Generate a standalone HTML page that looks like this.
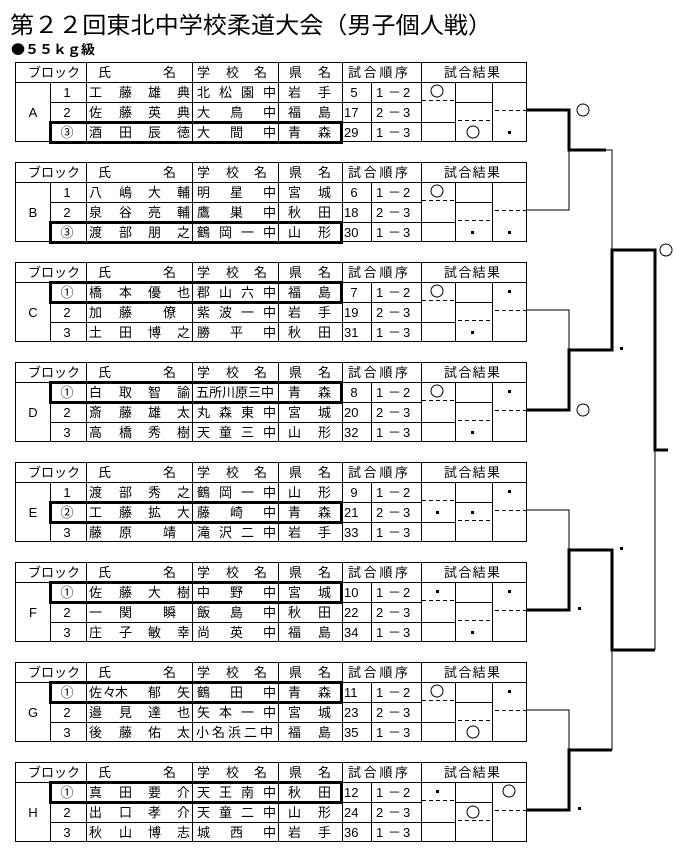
<!DOCTYPE html>
<html><head><meta charset="utf-8"><style>
html,body{margin:0;padding:0;background:#fff;}
svg{display:block;font-family:"Liberation Sans","Noto Sans CJK JP",sans-serif;}
text{font-size:13px;fill:#000;}
.c{text-anchor:middle;}
.g{fill:none;stroke:#000;stroke-width:1;}
.w{fill:none;stroke:#000;stroke-width:3;}
.d{stroke:#000;stroke-width:1;stroke-dasharray:4 3;}
.k{fill:none;stroke:#000;stroke-width:3;}
.t{fill:none;stroke:#000;stroke-width:1;}
</style></head><body>
<svg width="689" height="858" viewBox="0 0 689 858" xmlns="http://www.w3.org/2000/svg">
<text x="10" y="33" style="font-size:23px" textLength="482" lengthAdjust="spacingAndGlyphs">第２２回東北中学校柔道大会（男子個人戦）</text>
<text x="11" y="54" style="font-size:13px;font-weight:bold;font-family:'Noto Sans CJK JP',sans-serif" textLength="84" lengthAdjust="spacingAndGlyphs">●５５ｋｇ級</text>

<!-- Block A -->
<g transform="translate(0,62)">
<rect class="g" x="15.5" y="0.5" width="511" height="79"/>
<path class="g" d="M15 20.5H527M50.5 20V80M86.5 0V80M192.5 0V80M278.5 0V80M342.5 0V80M371.5 20V80M421.5 0V80M455.5 20V80M492.5 20V80M50 40.5H421M50 60.5H455M455 40.5H492"/>
<line class="d" x1="422" y1="38.5" x2="454" y2="38.5"/><line class="d" x1="458" y1="58.5" x2="490" y2="58.5"/><line class="d" x1="495" y1="48.5" x2="527" y2="48.5"/>
<text x="28" y="15" textLength="52">ブロック</text><text x="98" y="15">氏</text><text x="163" y="15">名</text><text x="197 226 254" y="15">学校名</text><text x="289 318" y="15">県名</text><text x="348" y="15" textLength="60">試合順序</text><text x="444" y="15" textLength="56">試合結果</text>
<text class="c" x="33" y="55">A</text>
<text class="c" x="67" y="35">1</text><text class="c" x="67" y="55">2</text><text class="c" x="67" y="75">③</text>
<text x="89 119 148 177" y="35">工藤雄典</text><text x="89 119 148 177" y="55">佐藤英典</text><text x="89 119 148 177" y="75">酒田辰徳</text>
<text x="197 219 241 263" y="35">北松園中</text><text x="197 230 263" y="55">大鳥中</text><text x="197 230 263" y="75">大間中</text>
<text x="288 318" y="35">岩手</text><text x="288 318" y="55">福島</text><text x="288 318" y="75">青森</text>
<text class="c" x="354" y="35">5</text><text x="344" y="55">17</text><text x="344" y="75">29</text>
<text x="376 388 403" y="35">1－2</text><text x="376 388 403" y="55">2－3</text><text x="376 388 403" y="75">1－3</text>
<rect class="w" x="50.5" y="60.5" width="291" height="20"/>
<circle class="g" cx="437" cy="29" r="6"/><circle class="g" cx="473" cy="70" r="6"/><rect x="508" y="69" width="3" height="3"/>
</g>

<!-- Block B -->
<g transform="translate(0,162)">
<rect class="g" x="15.5" y="0.5" width="511" height="79"/>
<path class="g" d="M15 20.5H527M50.5 20V80M86.5 0V80M192.5 0V80M278.5 0V80M342.5 0V80M371.5 20V80M421.5 0V80M455.5 20V80M492.5 20V80M50 40.5H421M50 60.5H455M455 40.5H492"/>
<line class="d" x1="422" y1="38.5" x2="454" y2="38.5"/><line class="d" x1="458" y1="58.5" x2="490" y2="58.5"/><line class="d" x1="495" y1="48.5" x2="527" y2="48.5"/>
<text x="28" y="15" textLength="52">ブロック</text><text x="98" y="15">氏</text><text x="163" y="15">名</text><text x="197 226 254" y="15">学校名</text><text x="289 318" y="15">県名</text><text x="348" y="15" textLength="60">試合順序</text><text x="444" y="15" textLength="56">試合結果</text>
<text class="c" x="33" y="55">B</text>
<text class="c" x="67" y="35">1</text><text class="c" x="67" y="55">2</text><text class="c" x="67" y="75">③</text>
<text x="89 119 148 177" y="35">八嶋大輔</text><text x="89 119 148 177" y="55">泉谷亮輔</text><text x="89 119 148 177" y="75">渡部朋之</text>
<text x="197 230 263" y="35">明星中</text><text x="197 230 263" y="55">鷹巣中</text><text x="197 219 241 263" y="75">鶴岡一中</text>
<text x="288 318" y="35">宮城</text><text x="288 318" y="55">秋田</text><text x="288 318" y="75">山形</text>
<text class="c" x="354" y="35">6</text><text x="344" y="55">18</text><text x="344" y="75">30</text>
<text x="376 388 403" y="35">1－2</text><text x="376 388 403" y="55">2－3</text><text x="376 388 403" y="75">1－3</text>
<rect class="w" x="50.5" y="60.5" width="291" height="20"/>
<circle class="g" cx="437" cy="29" r="6"/><rect x="471" y="69" width="3" height="3"/><rect x="508" y="69" width="3" height="3"/>
</g>

<!-- Block C -->
<g transform="translate(0,262)">
<rect class="g" x="15.5" y="0.5" width="511" height="79"/>
<path class="g" d="M15 20.5H527M50.5 20V80M86.5 0V80M192.5 0V80M278.5 0V80M342.5 0V80M371.5 20V80M421.5 0V80M455.5 20V80M492.5 20V80M50 40.5H421M50 60.5H455M455 40.5H492"/>
<line class="d" x1="422" y1="38.5" x2="454" y2="38.5"/><line class="d" x1="458" y1="58.5" x2="490" y2="58.5"/><line class="d" x1="495" y1="48.5" x2="527" y2="48.5"/>
<text x="28" y="15" textLength="52">ブロック</text><text x="98" y="15">氏</text><text x="163" y="15">名</text><text x="197 226 254" y="15">学校名</text><text x="289 318" y="15">県名</text><text x="348" y="15" textLength="60">試合順序</text><text x="444" y="15" textLength="56">試合結果</text>
<text class="c" x="33" y="55">C</text>
<text class="c" x="67" y="35">①</text><text class="c" x="67" y="55">2</text><text class="c" x="67" y="75">3</text>
<text x="89 119 148 177" y="35">橋本優也</text><text x="89 119 163" y="55">加藤僚</text><text x="89 119 148 177" y="75">土田博之</text>
<text x="197 219 241 263" y="35">郡山六中</text><text x="197 219 241 263" y="55">紫波一中</text><text x="197 230 263" y="75">勝平中</text>
<text x="288 318" y="35">福島</text><text x="288 318" y="55">岩手</text><text x="288 318" y="75">秋田</text>
<text class="c" x="354" y="35">7</text><text x="344" y="55">19</text><text x="344" y="75">31</text>
<text x="376 388 403" y="35">1－2</text><text x="376 388 403" y="55">2－3</text><text x="376 388 403" y="75">1－3</text>
<rect class="w" x="50.5" y="20.5" width="291" height="20"/>
<circle class="g" cx="437" cy="29" r="6"/><rect x="471" y="69" width="3" height="3"/><rect x="508" y="28" width="3" height="3"/>
</g>

<!-- Block D -->
<g transform="translate(0,362)">
<rect class="g" x="15.5" y="0.5" width="511" height="79"/>
<path class="g" d="M15 20.5H527M50.5 20V80M86.5 0V80M192.5 0V80M278.5 0V80M342.5 0V80M371.5 20V80M421.5 0V80M455.5 20V80M492.5 20V80M50 40.5H421M50 60.5H455M455 40.5H492"/>
<line class="d" x1="422" y1="38.5" x2="454" y2="38.5"/><line class="d" x1="458" y1="58.5" x2="490" y2="58.5"/><line class="d" x1="495" y1="48.5" x2="527" y2="48.5"/>
<text x="28" y="15" textLength="52">ブロック</text><text x="98" y="15">氏</text><text x="163" y="15">名</text><text x="197 226 254" y="15">学校名</text><text x="289 318" y="15">県名</text><text x="348" y="15" textLength="60">試合順序</text><text x="444" y="15" textLength="56">試合結果</text>
<text class="c" x="33" y="55">D</text>
<text class="c" x="67" y="35">①</text><text class="c" x="67" y="55">2</text><text class="c" x="67" y="75">3</text>
<text x="89 119 148 177" y="35">白取智諭</text><text x="89 119 148 177" y="55">斎藤雄太</text><text x="89 119 148 177" y="75">高橋秀樹</text>
<text x="196 209 222 235 248 261" y="35">五所川原三中</text><text x="197 219 241 263" y="55">丸森東中</text><text x="197 219 241 263" y="75">天童三中</text>
<text x="288 318" y="35">青森</text><text x="288 318" y="55">宮城</text><text x="288 318" y="75">山形</text>
<text class="c" x="354" y="35">8</text><text x="344" y="55">20</text><text x="344" y="75">32</text>
<text x="376 388 403" y="35">1－2</text><text x="376 388 403" y="55">2－3</text><text x="376 388 403" y="75">1－3</text>
<rect class="w" x="50.5" y="20.5" width="291" height="20"/>
<circle class="g" cx="437" cy="29" r="6"/><rect x="471" y="69" width="3" height="3"/><rect x="508" y="28" width="3" height="3"/>
</g>

<!-- Block E -->
<g transform="translate(0,462)">
<rect class="g" x="15.5" y="0.5" width="511" height="79"/>
<path class="g" d="M15 20.5H527M50.5 20V80M86.5 0V80M192.5 0V80M278.5 0V80M342.5 0V80M371.5 20V80M421.5 0V80M455.5 20V80M492.5 20V80M50 40.5H421M50 60.5H455M455 40.5H492"/>
<line class="d" x1="422" y1="38.5" x2="454" y2="38.5"/><line class="d" x1="458" y1="58.5" x2="490" y2="58.5"/><line class="d" x1="495" y1="48.5" x2="527" y2="48.5"/>
<text x="28" y="15" textLength="52">ブロック</text><text x="98" y="15">氏</text><text x="163" y="15">名</text><text x="197 226 254" y="15">学校名</text><text x="289 318" y="15">県名</text><text x="348" y="15" textLength="60">試合順序</text><text x="444" y="15" textLength="56">試合結果</text>
<text class="c" x="33" y="55">E</text>
<text class="c" x="67" y="35">1</text><text class="c" x="67" y="55">②</text><text class="c" x="67" y="75">3</text>
<text x="89 119 148 177" y="35">渡部秀之</text><text x="89 119 148 177" y="55">工藤拡大</text><text x="89 119 163" y="75">藤原靖</text>
<text x="197 219 241 263" y="35">鶴岡一中</text><text x="197 230 263" y="55">藤崎中</text><text x="197 219 241 263" y="75">滝沢二中</text>
<text x="288 318" y="35">山形</text><text x="288 318" y="55">青森</text><text x="288 318" y="75">岩手</text>
<text class="c" x="354" y="35">9</text><text x="344" y="55">21</text><text x="344" y="75">33</text>
<text x="376 388 403" y="35">1－2</text><text x="376 388 403" y="55">2－3</text><text x="376 388 403" y="75">1－3</text>
<rect class="w" x="50.5" y="40.5" width="291" height="20"/>
<rect x="436" y="49" width="3" height="3"/><rect x="471" y="49" width="3" height="3"/><rect x="508" y="28" width="3" height="3"/>
</g>

<!-- Block F -->
<g transform="translate(0,562)">
<rect class="g" x="15.5" y="0.5" width="511" height="79"/>
<path class="g" d="M15 20.5H527M50.5 20V80M86.5 0V80M192.5 0V80M278.5 0V80M342.5 0V80M371.5 20V80M421.5 0V80M455.5 20V80M492.5 20V80M50 40.5H421M50 60.5H455M455 40.5H492"/>
<line class="d" x1="422" y1="38.5" x2="454" y2="38.5"/><line class="d" x1="458" y1="58.5" x2="490" y2="58.5"/><line class="d" x1="495" y1="48.5" x2="527" y2="48.5"/>
<text x="28" y="15" textLength="52">ブロック</text><text x="98" y="15">氏</text><text x="163" y="15">名</text><text x="197 226 254" y="15">学校名</text><text x="289 318" y="15">県名</text><text x="348" y="15" textLength="60">試合順序</text><text x="444" y="15" textLength="56">試合結果</text>
<text class="c" x="33" y="55">F</text>
<text class="c" x="67" y="35">①</text><text class="c" x="67" y="55">2</text><text class="c" x="67" y="75">3</text>
<text x="89 119 148 177" y="35">佐藤大樹</text><text x="89 119 163" y="55">一関瞬</text><text x="89 119 148 177" y="75">庄子敏幸</text>
<text x="197 230 263" y="35">中野中</text><text x="197 230 263" y="55">飯島中</text><text x="197 230 263" y="75">尚英中</text>
<text x="288 318" y="35">宮城</text><text x="288 318" y="55">秋田</text><text x="288 318" y="75">福島</text>
<text x="344" y="35">10</text><text x="344" y="55">22</text><text x="344" y="75">34</text>
<text x="376 388 403" y="35">1－2</text><text x="376 388 403" y="55">2－3</text><text x="376 388 403" y="75">1－3</text>
<rect class="w" x="50.5" y="20.5" width="291" height="20"/>
<rect x="436" y="28" width="3" height="3"/><rect x="471" y="69" width="3" height="3"/><rect x="508" y="28" width="3" height="3"/>
</g>

<!-- Block G -->
<g transform="translate(0,662)">
<rect class="g" x="15.5" y="0.5" width="511" height="79"/>
<path class="g" d="M15 20.5H527M50.5 20V80M86.5 0V80M192.5 0V80M278.5 0V80M342.5 0V80M371.5 20V80M421.5 0V80M455.5 20V80M492.5 20V80M50 40.5H421M50 60.5H455M455 40.5H492"/>
<line class="d" x1="422" y1="38.5" x2="454" y2="38.5"/><line class="d" x1="458" y1="58.5" x2="490" y2="58.5"/><line class="d" x1="495" y1="48.5" x2="527" y2="48.5"/>
<text x="28" y="15" textLength="52">ブロック</text><text x="98" y="15">氏</text><text x="163" y="15">名</text><text x="197 226 254" y="15">学校名</text><text x="289 318" y="15">県名</text><text x="348" y="15" textLength="60">試合順序</text><text x="444" y="15" textLength="56">試合結果</text>
<text class="c" x="33" y="55">G</text>
<text class="c" x="67" y="35">①</text><text class="c" x="67" y="55">2</text><text class="c" x="67" y="75">3</text>
<text x="89 103 115 148 177" y="35">佐々木郁矢</text><text x="89 119 148 177" y="55">邉見達也</text><text x="89 119 148 177" y="75">後藤佑太</text>
<text x="197 230 263" y="35">鶴田中</text><text x="197 219 241 263" y="55">矢本一中</text><text x="196 212 228 244 260" y="75">小名浜二中</text>
<text x="288 318" y="35">青森</text><text x="288 318" y="55">宮城</text><text x="288 318" y="75">福島</text>
<text x="344" y="35">11</text><text x="344" y="55">23</text><text x="344" y="75">35</text>
<text x="376 388 403" y="35">1－2</text><text x="376 388 403" y="55">2－3</text><text x="376 388 403" y="75">1－3</text>
<rect class="w" x="50.5" y="20.5" width="291" height="20"/>
<circle class="g" cx="437" cy="29" r="6"/><circle class="g" cx="473" cy="70" r="6"/><rect x="508" y="28" width="3" height="3"/>
</g>

<!-- Block H -->
<g transform="translate(0,762)">
<rect class="g" x="15.5" y="0.5" width="511" height="79"/>
<path class="g" d="M15 20.5H527M50.5 20V80M86.5 0V80M192.5 0V80M278.5 0V80M342.5 0V80M371.5 20V80M421.5 0V80M455.5 20V80M492.5 20V80M50 40.5H421M50 60.5H455M455 40.5H492"/>
<line class="d" x1="422" y1="38.5" x2="454" y2="38.5"/><line class="d" x1="458" y1="58.5" x2="490" y2="58.5"/><line class="d" x1="495" y1="48.5" x2="527" y2="48.5"/>
<text x="28" y="15" textLength="52">ブロック</text><text x="98" y="15">氏</text><text x="163" y="15">名</text><text x="197 226 254" y="15">学校名</text><text x="289 318" y="15">県名</text><text x="348" y="15" textLength="60">試合順序</text><text x="444" y="15" textLength="56">試合結果</text>
<text class="c" x="33" y="55">H</text>
<text class="c" x="67" y="35">①</text><text class="c" x="67" y="55">2</text><text class="c" x="67" y="75">3</text>
<text x="89 119 148 177" y="35">真田要介</text><text x="89 119 148 177" y="55">出口孝介</text><text x="89 119 148 177" y="75">秋山博志</text>
<text x="197 219 241 263" y="35">天王南中</text><text x="197 219 241 263" y="55">天童二中</text><text x="197 230 263" y="75">城西中</text>
<text x="288 318" y="35">秋田</text><text x="288 318" y="55">山形</text><text x="288 318" y="75">岩手</text>
<text x="344" y="35">12</text><text x="344" y="55">24</text><text x="344" y="75">36</text>
<text x="376 388 403" y="35">1－2</text><text x="376 388 403" y="55">2－3</text><text x="376 388 403" y="75">1－3</text>
<rect class="w" x="50.5" y="20.5" width="291" height="20"/>
<rect x="436" y="28" width="3" height="3"/><circle class="g" cx="473" cy="50" r="6"/><circle class="g" cx="509" cy="29" r="6"/>
</g>

<!-- Bracket -->
<path class="k" d="M527 110H569V150H606"/>
<path class="t" d="M605 150H612V250M527 210H569V150"/>
<circle class="g" cx="583" cy="110" r="6"/>
<path class="t" d="M527 310H569V350"/>
<path class="k" d="M527 410H569V350H612V250H655V450H668"/>
<circle class="g" cx="583" cy="410" r="6"/>
<rect x="620" y="347" width="3" height="3"/>
<circle class="g" cx="666" cy="250" r="6"/>
<path class="t" d="M655 450V650M612 650V750"/>
<path class="k" d="M655 650H612V550H569V610H527"/>
<path class="t" d="M527 510H569V550"/>
<rect x="620" y="547" width="3" height="3"/>
<rect x="578" y="607" width="3" height="3"/>
<path class="t" d="M527 710H569V750"/>
<path class="k" d="M612 750H569V810H527"/>
<rect x="578" y="807" width="3" height="3"/>
</svg>
</body></html>
